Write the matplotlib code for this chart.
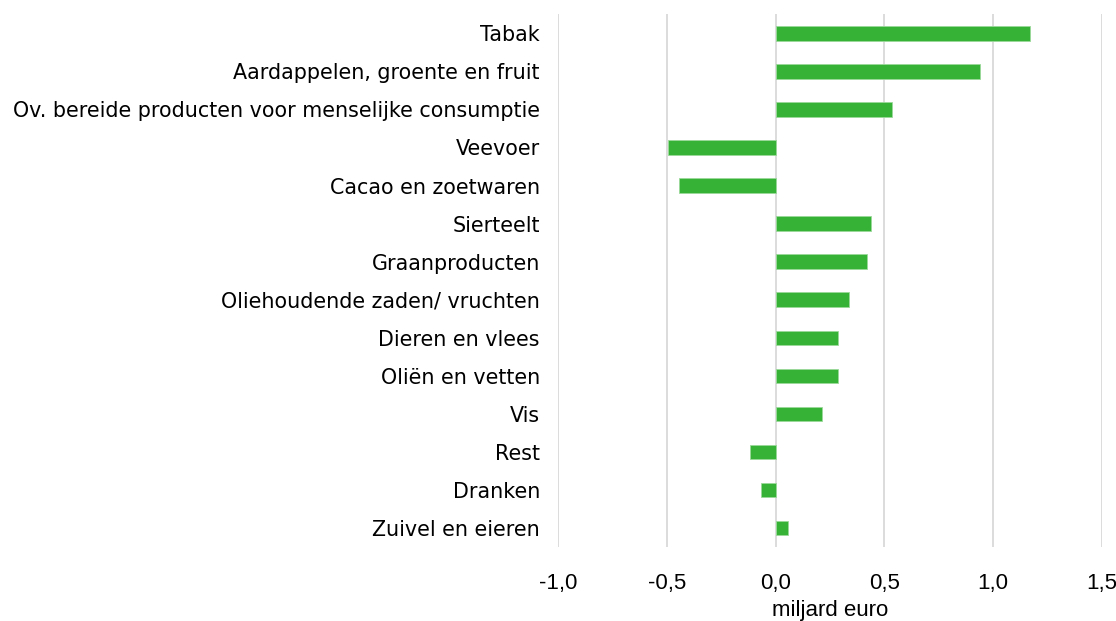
import matplotlib.pyplot as plt
from matplotlib.ticker import FuncFormatter

# Data (miljard euro)
categories = ['Tabak', 'Aardappelen, groente en fruit',
              'Ov. bereide producten voor menselijke consumptie', 'Veevoer',
              'Cacao en zoetwaren', 'Sierteelt', 'Graanproducten',
              'Oliehoudende zaden/ vruchten', 'Dieren en vlees', 'Oliën en vetten',
              'Vis', 'Rest', 'Dranken', 'Zuivel en eieren']
values = [1.17, 0.94, 0.535, -0.495, -0.445, 0.44, 0.42, 0.335, 0.285, 0.285,
          0.215, -0.12, -0.065, 0.055]
x_ticks = [-1.0, -0.5, 0.0, 0.5, 1.0, 1.5]

fig = plt.figure(figsize=(11.16, 6.21), dpi=100)
ax = fig.add_axes([0.5, 0.119, 0.4875, 0.858])

y = list(range(len(categories)))
ax.barh(y, values, height=0.38, color='#36b336', edgecolor='#9bd99b',
        linewidth=0.6, zorder=3)

ax.set_ylim(len(categories) - 0.5, -0.5)
ax.set_yticks(y)
ax.set_yticklabels(categories, fontsize=14.9, family='DejaVu Sans')
ax.set_xlim(-1.0, 1.5)
ax.set_xticks(x_ticks)
ax.xaxis.set_major_formatter(FuncFormatter(lambda v, p: f'{v:.1f}'.replace('.', ',')))
for lbl in ax.get_xticklabels():
    lbl.set_family('Liberation Sans')
    lbl.set_fontsize(16)
ax.set_xlabel('miljard euro', fontsize=16, family='Liberation Sans', labelpad=4)

ax.grid(axis='x', color='#d9d9d9', linewidth=1.3, zorder=0)
ax.tick_params(axis='both', length=0, colors='#000000')
ax.tick_params(axis='y', pad=13)
ax.tick_params(axis='x', pad=19)
for s in ax.spines.values():
    s.set_visible(False)

fig.savefig('out.png', dpi=100)
